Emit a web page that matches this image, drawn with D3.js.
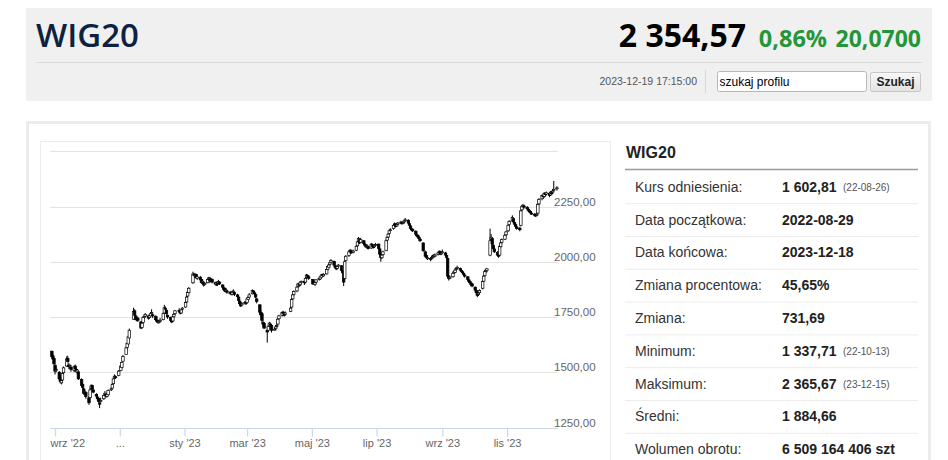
<!DOCTYPE html>
<html><head><meta charset="utf-8">
<script src="https://cdn.jsdelivr.net/npm/d3@7"></script>
<style>body{margin:0;background:#fff;}svg{display:block;}</style>
</head><body>
<svg id="c" width="948" height="460"></svg>
<script>
// ---------- data ----------
const holidays = ["2022-11-01","2022-11-11","2022-12-26","2023-01-06","2023-04-07","2023-04-10",
  "2023-05-01","2023-05-03","2023-06-08","2023-08-15","2023-11-01"];
const firstDay = "2022-08-29", lastDay = "2023-12-18";

const opens = [
 1595,1574,1562,
 1532,1508,1500,1474,1452,1465,1498,1528,1562,1530,1526,1522,1508,1528,1512,1500,1502,1468,1445,1425,1410,1408,
 1385,1385,1425,1440,1420,1400,1388,1382,1360,1370,1380,1402,1400,1390,1398,1422,1428,1448,1472,1480,1485,
 1508,1522,1550,1580,1612,1628,1655,1740,1778,1755,1738,1745,1728,1702,1725,1750,1754,1755,1748,1755,
 1768,1760,1752,1735,1730,1725,1732,1738,1768,1790,1780,1758,1748,1732,1732,1752,1765,1780,1772,1768,1785,
 1795,1818,1845,1860,1905,1942,1935,1942,1925,1930,1920,1908,1905,1898,1905,1922,1925,1915,1920,1905,1898,
 1905,1902,1908,1895,1882,1878,1870,1868,1858,1862,1852,1865,1862,1850,1840,1822,1812,1805,1812,1818,
 1815,1830,1840,1855,1868,1860,1852,1832,1805,1770,1765,1725,1720,1690,1690,1710,1718,1712,1695,1698,1708,1718,1742,
 1758,1772,1762,1762,1775,1795,1832,1852,1868,1888,1898,1896,1908,1912,1908,1928,1938,1932,
 1920,1898,1908,1920,1922,1930,1942,1936,1945,1966,1975,1988,1998,2002,1982,1972,1970,1980,1982,1958,1948,
 1925,2005,2028,2048,2050,2042,2052,2072,2092,2100,2088,2095,2080,2072,2070,2068,2062,2078,2072,2068,2076,
 2080,2058,2032,2018,2032,2050,2098,2112,2128,2142,2150,2168,2170,2162,2170,2176,2178,2175,2180,2188,2188,
 2172,2162,2148,2146,2138,2122,2118,2110,2102,2085,2045,2028,2018,2015,2015,2022,2028,2025,2032,2042,2046,2036,
 2042,2040,2028,2015,1932,1928,1932,1950,1952,1965,1972,1970,1960,1955,1948,1940,1932,1918,1910,1902,1900,
 1885,1870,1855,1852,1860,1880,1912,1938,1958,1960,2030,2100,2105,2075,2058,2042,2032,2030,2068,2088,2102,2122,
 2140,2168,2185,2195,2178,2168,2158,2152,2165,2235,2248,2252,2245,2238,2232,2228,2220,2215,2212,2212,2220,
 2262,2285,2298,2296,2308,2306,2310,2302,2312,2315,2325,2330];
const highs = [
 1598,1582,1566,
 1536,1524,1505,1482,1468,1500,1526,1572,1575,1540,1538,1528,1530,1535,1520,1515,1506,1472,1452,1430,1420,1412,
 1392,1425,1445,1444,1425,1405,1395,1386,1372,1385,1400,1415,1405,1408,1422,1432,1450,1475,1490,1485,1510,
 1530,1548,1578,1615,1635,1665,1698,1792,1785,1760,1750,1752,1732,1728,1752,1760,1768,1760,1762,1772,
 1785,1765,1758,1742,1735,1738,1745,1770,1805,1798,1785,1762,1752,1740,1755,1768,1782,1790,1778,1786,1795,
 1818,1845,1868,1885,1955,1950,1948,1946,1938,1935,1925,1922,1910,1908,1925,1932,1930,1925,1924,1910,1910,
 1912,1918,1912,1898,1888,1882,1882,1872,1868,1866,1868,1875,1865,1855,1845,1828,1815,1818,1822,1820,
 1838,1845,1858,1875,1872,1865,1855,1836,1808,1782,1770,1735,1728,1705,1712,1728,1725,1715,1702,1710,1720,1745,1760,
 1775,1778,1768,1775,1795,1835,1855,1870,1890,1905,1902,1910,1915,1915,1928,1945,1942,1938,
 1922,1910,1922,1930,1936,1945,1946,1948,1968,1982,1990,2000,2012,2005,1986,1978,1982,1990,1985,1962,1952,
 2005,2030,2050,2058,2055,2055,2075,2095,2112,2105,2108,2098,2085,2078,2080,2072,2085,2082,2075,2080,2085,
 2082,2062,2035,2035,2050,2100,2115,2130,2145,2152,2170,2178,2174,2172,2180,2185,2182,2182,2190,2198,2192,
 2178,2165,2155,2152,2142,2128,2122,2118,2108,2088,2050,2032,2025,2020,2028,2032,2035,2038,2045,2052,2050,2045,
 2055,2045,2032,2018,1940,1938,1952,1960,1968,1975,1982,1974,1966,1960,1952,1945,1935,1922,1915,1908,1905,
 1888,1875,1862,1865,1875,1915,1940,1960,1968,1972,2150,2125,2110,2080,2065,2048,2038,2075,2092,2105,2125,2140,
 2170,2188,2210,2200,2182,2175,2162,2158,2235,2258,2262,2258,2252,2245,2238,2232,2228,2220,2218,2222,2265,
 2288,2305,2302,2315,2312,2318,2314,2320,2318,2328,2365.67,2342];
const lows = [
 1568,1556,1534,
 1490,1500,1462,1450,1445,1460,1494,1525,1540,1515,1518,1502,1500,1510,1498,1490,1465,1432,1425,1398,1400,1380,
 1352,1382,1418,1420,1405,1385,1372,1362,1337.71,1362,1375,1398,1385,1386,1395,1415,1425,1445,1468,1470,1482,
 1505,1518,1548,1578,1605,1622,1650,1738,1750,1735,1730,1728,1695,1698,1720,1742,1748,1738,1742,1750,
 1762,1745,1732,1725,1720,1720,1728,1735,1765,1778,1760,1742,1730,1722,1728,1745,1760,1768,1762,1765,1778,
 1792,1812,1840,1855,1900,1930,1928,1922,1918,1912,1900,1902,1888,1892,1902,1915,1905,1910,1902,1892,1890,
 1890,1898,1895,1878,1868,1862,1865,1855,1852,1848,1848,1858,1845,1838,1820,1805,1795,1800,1806,1805,
 1812,1825,1835,1852,1855,1848,1835,1812,1765,1748,1728,1705,1695,1634,1685,1705,1708,1680,1688,1692,1702,1715,1738,
 1752,1758,1752,1758,1772,1792,1828,1845,1862,1882,1885,1890,1900,1895,1902,1922,1928,1918,
 1895,1890,1902,1915,1918,1926,1930,1932,1942,1960,1970,1982,1992,1980,1970,1962,1965,1975,1955,1945,1890,
 1920,2000,2022,2040,2035,2038,2048,2068,2088,2080,2085,2078,2070,2062,2065,2055,2058,2065,2060,2062,2072,
 2055,2030,2000,2012,2028,2048,2092,2108,2122,2138,2145,2162,2155,2158,2165,2170,2168,2170,2175,2182,2170,
 2160,2145,2138,2135,2120,2112,2105,2100,2090,2045,2020,2012,2008,2002,2010,2015,2018,2020,2028,2036,2030,2030,
 2036,2025,2015,1925,1915,1920,1928,1945,1948,1958,1965,1958,1950,1945,1935,1928,1915,1905,1898,1890,1885,
 1865,1852,1840,1845,1852,1875,1908,1932,1950,1952,2025,2085,2075,2052,2040,2025,2018,2028,2062,2082,2098,2115,
 2135,2160,2180,2175,2165,2155,2145,2138,2160,2228,2240,2240,2232,2228,2220,2215,2212,2205,2202,2206,2215,
 2255,2278,2285,2290,2295,2300,2292,2298,2302,2308,2318,2322];
const closes = [
 1572,1560,1538,
 1505,1512,1470,1458,1462,1495,1520,1560,1548,1525,1530,1512,1525,1515,1505,1510,1470,1440,1432,1405,1412,1390,
 1362,1420,1438,1425,1410,1392,1380,1368,1358,1372,1395,1405,1392,1400,1418,1425,1445,1470,1482,1478,1505,
 1528,1545,1572,1610,1630,1660,1690,1775,1758,1740,1742,1735,1700,1722,1748,1752,1762,1745,1758,1765,
 1770,1755,1738,1732,1728,1730,1735,1765,1792,1785,1765,1750,1735,1728,1750,1762,1778,1775,1770,1782,1790,
 1815,1840,1862,1880,1945,1938,1940,1928,1932,1918,1905,1912,1895,1902,1920,1928,1912,1918,1908,1900,1905,
 1898,1910,1900,1885,1875,1868,1872,1862,1860,1855,1862,1868,1852,1842,1825,1810,1800,1810,1815,1812,
 1832,1838,1850,1870,1862,1855,1840,1820,1772,1760,1735,1718,1700,1682,1708,1722,1715,1690,1695,1705,1712,1740,1755,
 1770,1765,1760,1768,1790,1830,1850,1865,1885,1900,1895,1905,1910,1905,1925,1940,1935,1925,
 1900,1905,1918,1925,1932,1940,1938,1942,1965,1978,1985,1995,2005,1985,1975,1968,1978,1985,1960,1950,1908,
 2000,2025,2045,2052,2040,2048,2070,2090,2105,2085,2100,2082,2075,2068,2072,2060,2080,2070,2065,2075,2078,
 2060,2035,2020,2030,2045,2095,2110,2125,2140,2145,2165,2172,2160,2168,2175,2180,2172,2178,2185,2190,2175,
 2165,2150,2145,2140,2125,2120,2112,2105,2095,2050,2025,2020,2018,2012,2020,2025,2028,2030,2040,2045,2035,2040,
 2045,2030,2020,1935,1925,1930,1948,1955,1962,1970,1975,1962,1958,1950,1942,1935,1920,1912,1905,1898,1890,
 1872,1860,1848,1858,1870,1910,1935,1955,1962,1968,2095,2110,2080,2060,2045,2030,2025,2070,2085,2100,2120,2135,
 2165,2182,2200,2180,2170,2160,2150,2145,2230,2250,2255,2248,2240,2235,2226,2222,2218,2212,2210,2215,2260,
 2282,2300,2295,2310,2305,2312,2300,2315,2310,2320,2328,2334.5];

const yGridValues = [1250, 1500, 1750, 2000, 2250, 2500];
const yLabelValues = [1250, 1500, 1750, 2000, 2250];
const xTickDates = ["2022-09-01","2022-11-01","2023-01-01","2023-03-01","2023-05-01","2023-07-01","2023-09-01","2023-11-01"];
const xTickLabels = ["wrz '22","...","sty '23","mar '23","maj '23","lip '23","wrz '23","lis '23"];

const headerTitle = "WIG20";
const lastPrice = "2 354,57", changePct = "0,86%", changeAbs = "20,0700";
const stampText = "2023-12-19 17:15:00";
const tableLabels = ["Kurs odniesienia:","Data początkowa:","Data końcowa:","Zmiana procentowa:","Zmiana:","Minimum:","Maksimum:","Średni:","Wolumen obrotu:"];
const tableValues = ["1 602,81","2022-08-29","2023-12-18","45,65%","731,69","1 337,71","2 365,67","1 884,66","6 509 164 406 szt"];
const tableNotes = ["(22-08-26)","","","","","(22-10-13)","(23-12-15)","",""];

// ---------- build ----------
const parse = d3.timeParse("%Y-%m-%d"), fmt = d3.timeFormat("%Y-%m-%d");
const hol = new Set(holidays);
const dates = d3.timeDays(parse(firstDay), d3.timeDay.offset(parse(lastDay), 1))
  .filter(d => d.getDay() !== 0 && d.getDay() !== 6 && !hol.has(fmt(d)));
const n = Math.min(dates.length, opens.length, highs.length, lows.length, closes.length);
const candles = d3.range(n).map(i => ({d: dates[i], o: opens[i], h: highs[i], l: lows[i], c: closes[i]}));

const svg = d3.select("#c");
const AR = "Arial, 'Liberation Sans', sans-serif";
const OS = "'Open Sans', 'Noto Sans', sans-serif";

// header
svg.append("rect").attr("x", 26).attr("y", 8).attr("width", 906).attr("height", 93).attr("fill", "#f0f0f0");
svg.append("text").attr("x", 36).attr("y", 46.5).text(headerTitle)
  .attr("font-family", OS).attr("font-weight", 600).attr("font-size", 33).attr("fill", "#0c2240");
svg.append("line").attr("x1", 36).attr("x2", 922).attr("y1", 62.5).attr("y2", 62.5).attr("stroke", "#dadada");
svg.append("text").attr("x", 921).attr("y", 46.5).attr("text-anchor", "end").text(changeAbs)
  .attr("font-family", OS).attr("font-weight", 700).attr("font-size", 23).attr("fill", "#23963a");
svg.append("text").attr("x", 827).attr("y", 46.5).attr("text-anchor", "end").text(changePct)
  .attr("font-family", OS).attr("font-weight", 700).attr("font-size", 23.5).attr("fill", "#23963a");
svg.append("text").attr("x", 746).attr("y", 46.5).attr("text-anchor", "end").text(lastPrice)
  .attr("font-family", OS).attr("font-weight", 700).attr("font-size", 32).attr("fill", "#000");
svg.append("text").attr("x", 697).attr("y", 85).attr("text-anchor", "end").text(stampText)
  .attr("font-family", AR).attr("font-size", 10.5).attr("fill", "#555");
svg.append("line").attr("x1", 705.5).attr("x2", 705.5).attr("y1", 70).attr("y2", 93).attr("stroke", "#d6d6d6");
svg.append("rect").attr("x", 717.5).attr("y", 71.5).attr("width", 149).attr("height", 20).attr("rx", 2)
  .attr("fill", "#fff").attr("stroke", "#b8b8b8");
svg.append("text").attr("x", 719.5).attr("y", 85.5).text("szukaj profilu")
  .attr("font-family", AR).attr("font-size", 12).attr("fill", "#000");
const grad = svg.append("defs").append("linearGradient").attr("id", "btn").attr("x1", 0).attr("x2", 0).attr("y1", 0).attr("y2", 1);
grad.append("stop").attr("offset", 0).attr("stop-color", "#f8f8f8");
grad.append("stop").attr("offset", 1).attr("stop-color", "#e2e2e2");
svg.append("rect").attr("x", 870.5).attr("y", 72.5).attr("width", 50).attr("height", 19).attr("rx", 2)
  .attr("fill", "url(#btn)").attr("stroke", "#c6c6c6");
svg.append("text").attr("x", 895.5).attr("y", 86).attr("text-anchor", "middle").text("Szukaj")
  .attr("font-family", AR).attr("font-weight", 700).attr("font-size", 12).attr("fill", "#222");

// content boxes
svg.append("rect").attr("x", 27.5).attr("y", 122.5).attr("width", 902).attr("height", 360)
  .attr("fill", "#fff").attr("stroke", "#ececec").attr("stroke-width", 3);
svg.append("rect").attr("x", 40.5).attr("y", 141.5).attr("width", 570).attr("height", 340)
  .attr("fill", "#fff").attr("stroke", "#ededed");

// chart
const x = d3.scaleTime().domain([parse("2022-08-28"), parse("2023-12-19")]).range([50.8, 558]);
const y = d3.scaleLinear().domain([1250, 2500]).range([427.5, 151.25]);

svg.append("g").selectAll("line").data(yGridValues).join("line")
  .attr("x1", 50).attr("x2", 558)
  .attr("y1", d => Math.round(y(d)) + 0.5).attr("y2", d => Math.round(y(d)) + 0.5)
  .attr("stroke", "#e3e3e3").attr("stroke-width", 1);

const xAxis = svg.append("g").attr("transform", `translate(0,${Math.round(y(1250)) + 0.5})`)
  .call(d3.axisBottom(x).tickValues(xTickDates.map(parse)).tickFormat((d, i) => xTickLabels[i])
    .tickSize(8).tickSizeOuter(0).tickPadding(3));
xAxis.select(".domain").attr("stroke", "#ccd6eb").attr("d", "M50,0H558");
xAxis.selectAll(".tick line").attr("stroke", "#ccd6eb").attr("stroke-width", 1.2);
xAxis.selectAll(".tick text").attr("fill", "#666").attr("font-family", AR).attr("font-size", 11);
xAxis.select(".tick text").attr("text-anchor", "start").attr("x", 50 - x(parse(xTickDates[0])));

const yAxis = svg.append("g").attr("transform", "translate(554,0)")
  .call(d3.axisRight(y).tickValues(yLabelValues).tickFormat(d => d3.format(".2f")(d).replace(".", ","))
    .tickSize(0).tickPadding(0));
yAxis.select(".domain").remove();
yAxis.selectAll(".tick text").attr("y", -5).attr("fill", "#666").attr("font-family", AR).attr("font-size", 11.5);

const g = svg.append("g");
const bw = 2.5;
g.selectAll("line.w").data(candles).join("line").attr("class", "w")
  .attr("x1", d => x(d.d)).attr("x2", d => x(d.d))
  .attr("y1", d => y(d.h)).attr("y2", d => y(d.l))
  .attr("stroke", "#000").attr("stroke-width", 1);
g.selectAll("rect.b").data(candles).join("rect").attr("class", "b")
  .attr("x", d => x(d.d) - bw / 2).attr("width", bw)
  .attr("y", d => y(Math.max(d.o, d.c)))
  .attr("height", d => Math.max(1, Math.abs(y(d.o) - y(d.c))))
  .attr("fill", d => d.c >= d.o ? "#fff" : "#000")
  .attr("stroke", "#000").attr("stroke-width", 0.7);

// table
const tx = 625;
svg.append("text").attr("x", 626).attr("y", 158).text(headerTitle)
  .attr("font-family", AR).attr("font-weight", 700).attr("font-size", 16).attr("fill", "#222");
svg.append("line").attr("x1", tx).attr("x2", 918).attr("y1", 169.5).attr("y2", 169.5)
  .attr("stroke", "#9a9a9a").attr("stroke-width", 1.5);
const rowH = 32.8, row0 = 186.7;
const rows = svg.append("g").selectAll("g").data(tableLabels).join("g")
  .attr("transform", (d, i) => `translate(0,${row0 + i * rowH})`);
rows.filter((d, i) => i < tableLabels.length - 1).append("line")
  .attr("x1", tx).attr("x2", 918).attr("y1", 17).attr("y2", 17).attr("stroke", "#ececec");
rows.append("text").attr("x", 635).attr("y", 5).text(d => d)
  .attr("font-family", AR).attr("font-size", 14).attr("fill", "#333");
rows.append("text").attr("x", 782).attr("y", 5).text((d, i) => tableValues[i])
  .attr("font-family", AR).attr("font-weight", 700).attr("font-size", 14).attr("fill", "#222");
rows.append("text").attr("x", 843).attr("y", 4.5).text((d, i) => tableNotes[i])
  .attr("font-family", AR).attr("font-size", 10).attr("fill", "#555");
</script>
</body></html>
